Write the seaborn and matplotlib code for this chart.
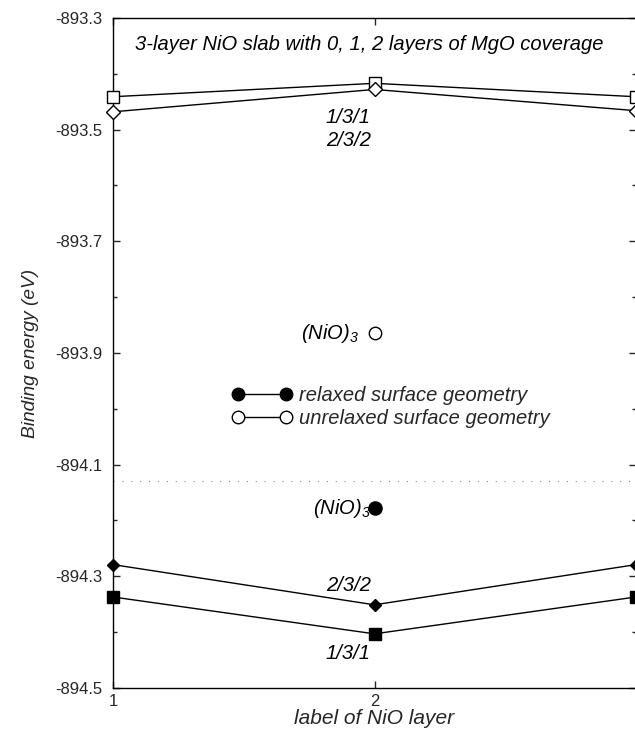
import matplotlib
matplotlib.use("Agg")
import matplotlib.pyplot as plt
import seaborn as sns
from matplotlib.lines import Line2D
from matplotlib.ticker import MultipleLocator

# NiO layer labels
layers = [1, 2, 3]

# unrelaxed surface geometry (open symbols)
unrel_131 = [-893.441, -893.417, -893.441]
unrel_232 = [-893.468, -893.428, -893.466]
unrel_nio3 = -893.865

# relaxed surface geometry (filled symbols)
rel_232 = [-894.279, -894.351, -894.279]
rel_131 = [-894.337, -894.403, -894.337]
rel_nio3 = -894.178

yticks = [-894.5, -894.3, -894.1, -893.9, -893.7, -893.5, -893.3]
ytick_labels = ["-894.5", "-894.3", "-894.1", "-893.9", "-893.7", "-893.5", "-893.3"]

sns.set_style("ticks")
plt.rcParams["font.family"] = ["Liberation Sans", "DejaVu Sans"]
plt.rcParams["mathtext.fontset"] = "custom"
plt.rcParams["mathtext.rm"] = "Liberation Sans:italic"
plt.rcParams["mathtext.it"] = "Liberation Sans:italic"

fig = plt.figure(figsize=(6.35, 7.31), dpi=100)
ax = fig.add_axes([113 / 635, 43 / 731, 523 / 635, 670 / 731])

# scan artefact line through the middle of the page
ax.axhline(-894.13, color="0.55", lw=0.8, ls=(0, (1, 7)), zorder=0)

line_kw = dict(color="black", lw=1.0, markeredgecolor="black", markeredgewidth=1.0,
               clip_on=False, zorder=3)
sns.lineplot(x=layers, y=unrel_131, marker="s", markersize=9,
             markerfacecolor="white", ax=ax, **line_kw)
sns.lineplot(x=layers, y=unrel_232, marker="D", markersize=7,
             markerfacecolor="white", ax=ax, **line_kw)
sns.lineplot(x=layers, y=rel_232, marker="D", markersize=6.5,
             markerfacecolor="black", ax=ax, **line_kw)
sns.lineplot(x=layers, y=rel_131, marker="s", markersize=8.5,
             markerfacecolor="black", ax=ax, **line_kw)

sns.scatterplot(x=[2], y=[unrel_nio3], marker="o", s=80, facecolor="white",
                edgecolor="black", linewidth=1.0, ax=ax, zorder=4)
sns.scatterplot(x=[2], y=[rel_nio3], marker="o", s=90, facecolor="black",
                edgecolor="black", linewidth=1.0, ax=ax, zorder=4)

ax.set_xlim(1, 3)
ax.set_ylim(-894.5, -893.3)
ax.set_xticks(layers)
ax.set_xticklabels(["1", "2", ""])
ax.set_yticks(yticks)
ax.set_yticklabels(ytick_labels)
ax.yaxis.set_minor_locator(MultipleLocator(0.1))
ax.tick_params(which="both", direction="in", top=True, right=True,
               labelsize=12, width=1.0)
ax.tick_params(axis="y", pad=7.5)
ax.tick_params(axis="x", pad=4)
ax.tick_params(which="major", length=5)
ax.tick_params(which="minor", length=3)
for sp in ax.spines.values():
    sp.set_linewidth(1.0)
    sp.set_color("black")

txt = dict(style="italic", fontsize=14.5, color="black")
ax.text(1.98, -893.348, "3-layer NiO slab with 0, 1, 2 layers of MgO coverage",
        ha="center", va="center", **txt)
ax.text(1.9, -893.479, "1/3/1", ha="center", va="center", **txt)
ax.text(1.9, -893.52, "2/3/2", ha="center", va="center", **txt)
ax.text(1.9, -894.316, "2/3/2", ha="center", va="center", **txt)
ax.text(1.9, -894.438, "1/3/1", ha="center", va="center", **txt)
ax.text(1.94, unrel_nio3, r"(NiO)$_3$", ha="right", va="center", **txt)
ax.text(1.985, rel_nio3, r"(NiO)$_3$", ha="right", va="center", **txt)

handles = [
    Line2D([], [], color="black", lw=1.0, marker="o", markersize=9,
           markerfacecolor="black", markeredgecolor="black"),
    Line2D([], [], color="black", lw=1.0, marker="o", markersize=9,
           markerfacecolor="white", markeredgecolor="black"),
]
ax.legend(handles, ["relaxed surface geometry", "unrelaxed surface geometry"],
          loc="center left", bbox_to_anchor=(0.2275, 0.42), frameon=False,
          numpoints=2, handlelength=3.0, handletextpad=0.35, borderpad=0,
          borderaxespad=0, labelspacing=0.2,
          prop=dict(family="Liberation Sans", style="italic", size=14.5))

ax.set_xlabel("label of NiO layer", style="italic", fontsize=15, labelpad=0)
ax.set_ylabel("Binding energy (eV)", style="italic", fontsize=13.8, labelpad=12)

fig.savefig("out.png", dpi=100)
